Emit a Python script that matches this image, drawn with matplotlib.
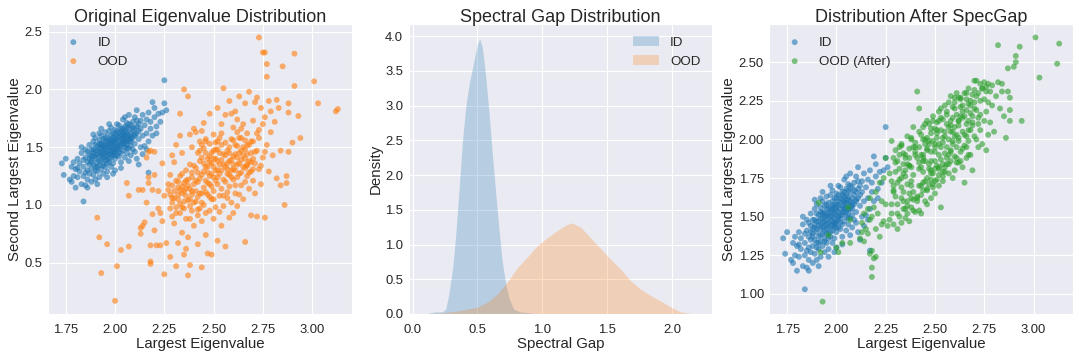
import matplotlib
matplotlib.use("Agg")
import matplotlib.pyplot as plt
import seaborn as sns
import numpy as np

sns.set_style("darkgrid")
plt.rcParams['font.family'] = ['Liberation Sans', 'DejaVu Sans']
plt.rcParams['text.color'] = '0.15'
plt.rcParams['axes.labelcolor'] = '0.15'
plt.rcParams['xtick.color'] = '0.15'
plt.rcParams['ytick.color'] = '0.15'

# ---------------- data ----------------
id_x = [1.73, 1.74, 1.75, 1.77, 1.78, 1.79, 1.79, 1.80, 1.78, 1.80,
        1.81, 1.81, 1.82, 1.82, 1.83, 1.83, 1.84, 1.84, 1.84, 1.85,
        1.85, 1.85, 1.86, 1.86, 1.86, 1.87, 1.87, 1.87, 1.83, 1.86,
        1.81, 1.84, 1.87, 1.85, 1.86,
        1.88, 1.88, 1.88, 1.88, 1.89, 1.89, 1.89, 1.89, 1.90, 1.90,
        1.90, 1.90, 1.90, 1.91, 1.91, 1.91, 1.91, 1.92, 1.92, 1.92,
        1.92, 1.92, 1.92, 1.93, 1.93, 1.93, 1.93, 1.93, 1.94, 1.94,
        1.94, 1.94, 1.94, 1.89, 1.91, 1.93, 1.88, 1.90, 1.92, 1.94,
        1.95, 1.95, 1.95, 1.95, 1.95, 1.96, 1.96, 1.96, 1.96, 1.96,
        1.97, 1.97, 1.97, 1.97, 1.97, 1.98, 1.98, 1.98, 1.98, 1.98,
        1.98, 1.99, 1.99, 1.99, 1.99, 1.99, 2.00, 2.00, 2.00, 2.00,
        2.00, 2.00, 2.01, 2.01, 2.01, 2.01, 2.01, 1.96, 1.99, 1.97,
        1.95, 1.98, 2.00, 1.96, 1.99,
        2.02, 2.02, 2.02, 2.02, 2.02, 2.03, 2.03, 2.03, 2.03, 2.03,
        2.04, 2.04, 2.04, 2.04, 2.04, 2.05, 2.05, 2.05, 2.05, 2.05,
        2.06, 2.06, 2.06, 2.06, 2.06, 2.07, 2.07, 2.07, 2.07, 2.07,
        2.08, 2.08, 2.08, 2.08, 2.08, 2.03, 2.05, 2.07, 2.04, 2.06,
        2.09, 2.09, 2.09, 2.09, 2.10, 2.10, 2.10, 2.10, 2.11, 2.11,
        2.11, 2.11, 2.12, 2.12, 2.12, 2.13, 2.13, 2.13, 2.14, 2.14,
        2.14, 2.15, 2.15, 2.12, 2.10,
        2.16, 2.16, 2.17, 2.17, 2.17, 2.18, 2.18, 2.19, 2.19, 2.20,
        2.21, 2.22, 2.23, 2.25, 2.25, 2.26, 2.24, 2.20, 2.16, 2.21,
        1.88, 1.89, 1.90, 1.91, 1.92, 1.93, 1.94, 1.95, 1.96, 1.97,
        1.98, 1.99, 2.00, 2.01, 2.02, 2.03, 2.04, 2.05, 2.06, 2.07,
        2.08, 2.09, 2.10, 2.11, 1.90, 1.92, 1.94, 1.96, 1.98, 2.00,
        2.02, 2.04, 2.06, 2.08, 1.91, 1.93, 1.95, 1.97, 1.99, 2.01,
        2.03, 2.05, 1.87, 1.89, 1.97, 2.00, 2.03, 1.95, 1.99, 2.05,
        1.93, 2.01, 2.07, 1.96, 2.04, 1.98, 2.02, 1.94, 2.00, 2.06]
id_y = [1.36, 1.26, 1.40, 1.22, 1.20, 1.25, 1.37, 1.31, 1.33, 1.15,
        1.24, 1.40, 1.36, 1.29, 1.18, 1.45, 1.03, 1.33, 1.25, 1.41,
        1.17, 1.48, 1.30, 1.37, 1.22, 1.44, 1.27, 1.52, 1.50, 1.15,
        1.32, 1.39, 1.35, 1.28, 1.46,
        1.39, 1.31, 1.48, 1.20, 1.43, 1.35, 1.55, 1.26, 1.40, 1.47,
        1.33, 1.58, 1.22, 1.44, 1.37, 1.51, 1.29, 1.42, 1.49, 1.34,
        1.56, 1.62, 1.24, 1.46, 1.39, 1.53, 1.31, 1.60, 1.44, 1.50,
        1.36, 1.57, 1.27, 1.61, 1.18, 1.66, 1.42, 1.52, 1.45, 1.41,
        1.48, 1.42, 1.55, 1.33, 1.63, 1.46, 1.52, 1.39, 1.59, 1.29,
        1.50, 1.44, 1.56, 1.37, 1.64, 1.47, 1.53, 1.41, 1.60, 1.33,
        1.67, 1.49, 1.55, 1.43, 1.62, 1.36, 1.51, 1.46, 1.58, 1.40,
        1.65, 1.30, 1.53, 1.48, 1.60, 1.43, 1.70, 1.24, 1.27, 1.70,
        1.51, 1.50, 1.54, 1.43, 1.58,
        1.55, 1.49, 1.62, 1.42, 1.69, 1.57, 1.51, 1.64, 1.45, 1.37,
        1.59, 1.53, 1.66, 1.47, 1.74, 1.56, 1.61, 1.50, 1.68, 1.41,
        1.58, 1.63, 1.52, 1.71, 1.45, 1.60, 1.55, 1.66, 1.49, 1.78,
        1.62, 1.57, 1.69, 1.51, 1.43, 1.32, 1.76, 1.38, 1.60, 1.55,
        1.64, 1.58, 1.72, 1.48, 1.66, 1.60, 1.53, 1.76, 1.68, 1.62,
        1.40, 1.82, 1.70, 1.57, 1.64, 1.73, 1.50, 1.66, 1.60, 1.78,
        1.44, 1.69, 1.51, 1.35, 1.46,
        1.74, 1.62, 1.80, 1.28, 1.55, 1.66, 1.72, 1.89, 1.60, 1.76,
        1.68, 1.79, 1.72, 2.08, 1.88, 1.82, 1.80, 1.84, 1.48, 1.62,
        1.37, 1.45, 1.30, 1.47, 1.38, 1.52, 1.34, 1.45, 1.55, 1.40,
        1.57, 1.45, 1.62, 1.50, 1.46, 1.66, 1.55, 1.64, 1.49, 1.70,
        1.55, 1.67, 1.61, 1.73, 1.42, 1.53, 1.47, 1.36, 1.55, 1.47,
        1.59, 1.63, 1.67, 1.59, 1.33, 1.43, 1.58, 1.47, 1.52, 1.57,
        1.53, 1.59, 1.40, 1.48, 1.53, 1.56, 1.61, 1.39, 1.46, 1.53,
        1.49, 1.64, 1.57, 1.50, 1.56, 1.44, 1.51, 1.52, 1.43, 1.61]

ood_x = [1.91, 1.92, 1.93, 1.96, 2.00, 2.01, 2.03, 2.07, 2.06, 2.07,
         2.12, 2.13, 2.13, 2.14, 2.14, 2.15, 2.16, 2.16, 2.17, 2.17,
         2.17, 2.18, 2.18, 2.18, 2.18, 2.19, 2.19, 2.20, 2.20, 2.20,
         2.21, 2.22, 2.22, 2.23, 2.23, 2.24, 2.24, 2.25, 2.25,
         2.27, 2.27, 2.28, 2.28, 2.29, 2.29, 2.29, 2.30, 2.30, 2.30,
         2.31, 2.31, 2.31, 2.31, 2.32, 2.32, 2.32, 2.33, 2.33, 2.33,
         2.34, 2.34, 2.34, 2.35, 2.35, 2.35, 2.35, 2.36, 2.36, 2.36,
         2.37, 2.37, 2.37, 2.37, 2.38, 2.38, 2.38, 2.38, 2.39, 2.39,
         2.39, 2.39, 2.40, 2.40, 2.40, 2.28, 2.26, 2.33, 2.29, 2.36,
         2.41, 2.41, 2.41, 2.42, 2.42, 2.42, 2.42, 2.43, 2.43, 2.43,
         2.43, 2.44, 2.44, 2.44, 2.44, 2.45, 2.45, 2.45, 2.45, 2.46,
         2.46, 2.46, 2.46, 2.47, 2.47, 2.47, 2.47, 2.48, 2.48, 2.48,
         2.48, 2.49, 2.49, 2.49, 2.49, 2.50, 2.50, 2.50, 2.50, 2.51,
         2.51, 2.51, 2.51, 2.52, 2.52, 2.52, 2.52, 2.53, 2.53, 2.53,
         2.53, 2.54, 2.54, 2.54, 2.54, 2.55, 2.55, 2.55, 2.55, 2.56,
         2.44, 2.46, 2.48, 2.50, 2.52,
         2.56, 2.56, 2.57, 2.57, 2.57, 2.58, 2.58, 2.58, 2.58, 2.59,
         2.59, 2.59, 2.60, 2.60, 2.60, 2.60, 2.61, 2.61, 2.61, 2.62,
         2.62, 2.62, 2.63, 2.63, 2.63, 2.64, 2.64, 2.64, 2.65, 2.65,
         2.65, 2.66, 2.66, 2.66, 2.67, 2.67, 2.67, 2.68, 2.68, 2.68,
         2.69, 2.69, 2.69, 2.70, 2.70, 2.70, 2.59, 2.62, 2.64, 2.66,
         2.57, 2.61, 2.63, 2.67, 2.69,
         2.71, 2.71, 2.71, 2.72, 2.72, 2.72, 2.73, 2.73, 2.73, 2.74,
         2.74, 2.75, 2.75, 2.75, 2.76, 2.76, 2.76, 2.77, 2.77, 2.77,
         2.78, 2.78, 2.79, 2.79, 2.80, 2.81, 2.82, 2.82, 2.83, 2.84,
         2.85, 2.84,
         2.86, 2.87, 2.87, 2.88, 2.88, 2.88, 2.90, 2.91, 2.91, 2.93,
         2.94, 3.01, 3.03, 3.12, 3.13,
         2.30, 2.31, 2.32, 2.33, 2.34, 2.35, 2.36, 2.37, 2.38, 2.39,
         2.40, 2.41, 2.42, 2.43, 2.44, 2.45, 2.46, 2.47, 2.48, 2.49,
         2.50, 2.51, 2.52, 2.53, 2.54, 2.55, 2.56, 2.57, 2.58, 2.59,
         2.60, 2.61, 2.62, 2.63, 2.64, 2.65, 2.66, 2.67, 2.68, 2.69,
         2.70, 2.72, 2.74, 2.32, 2.34, 2.36, 2.38, 2.40, 2.42, 2.44,
         2.46, 2.48, 2.50, 2.52, 2.54, 2.56, 2.58, 2.60, 2.62, 2.64,
         2.66, 2.68, 2.33, 2.37, 2.41, 2.45, 2.49, 2.53, 2.57, 2.61,
         2.65, 2.29, 2.35, 2.39, 2.43, 2.47, 2.51, 2.55, 2.59, 2.63,
         2.67, 2.71, 2.28, 2.44, 2.48, 2.52, 2.56, 2.60, 2.46, 2.50,
         2.54, 2.58, 2.42, 2.38, 2.62, 2.66, 2.70, 2.34, 2.73, 2.76]
ood_y = [0.89, 0.72, 0.41, 0.66, 0.17, 0.47, 0.61, 0.64, 1.19, 1.08,
         1.13, 0.80, 0.75, 0.82, 1.13, 0.85, 1.02, 1.41, 1.19, 1.24,
         1.46, 1.47, 0.65, 0.51, 0.49, 0.92, 1.13, 0.78, 1.46, 1.26,
         0.65, 0.97, 1.12, 0.93, 0.65, 0.86, 1.36, 1.08, 0.40,
         1.13, 1.18, 1.09, 1.26, 1.02, 1.17, 0.90, 1.12, 0.84, 1.37,
         1.52, 1.21, 0.47, 0.98, 1.15, 0.67, 1.05, 1.25, 0.93, 1.60,
         1.10, 0.76, 1.45, 1.19, 2.00, 1.03, 0.57, 1.30, 0.88, 1.14,
         1.94, 0.39, 1.22, 0.72, 1.05, 1.61, 1.35, 0.48, 1.12, 0.95,
         1.50, 1.28, 1.66, 0.82, 1.18, 0.55, 0.67, 1.79, 1.43, 0.62,
         1.63, 1.03, 1.32, 0.91, 1.45, 1.20, 0.66, 1.55, 1.10, 0.97,
         1.38, 1.26, 0.46, 1.64, 0.86, 1.15, 1.49, 1.00, 1.71, 1.33,
         1.21, 0.74, 1.57, 1.09, 1.40, 0.58, 1.28, 1.53, 0.95, 1.18,
         1.79, 1.36, 1.05, 0.57, 1.45, 1.24, 1.61, 0.88, 1.12, 1.40,
         0.98, 1.54, 1.30, 1.18, 0.69, 1.48, 1.84, 1.08, 1.35, 0.94,
         1.27, 1.52, 1.14, 0.82, 1.70, 1.22, 1.44, 0.99, 2.01, 1.33,
         1.10, 0.93, 1.25, 1.05, 1.30,
         1.78, 0.64, 1.47, 1.06, 1.27, 1.90, 1.38, 0.89, 1.16, 1.57,
         1.30, 1.02, 1.67, 1.42, 0.93, 1.22, 1.52, 1.81, 1.10, 1.35,
         1.63, 0.99, 1.45, 1.27, 1.94, 1.58, 1.17, 1.39, 1.70, 1.05,
         1.50, 1.32, 0.68, 1.88, 1.44, 1.25, 1.62, 1.38, 1.14, 1.98,
         1.55, 1.29, 0.91, 1.73, 1.40, 1.21, 1.79, 1.24, 1.47, 1.56,
         1.11, 1.30, 1.09, 1.34, 1.45,
         1.89, 1.36, 1.10, 1.47, 1.93, 0.90, 2.45, 1.58, 1.31, 1.84,
         1.18, 2.32, 1.70, 1.41, 2.32, 0.89, 1.76, 2.22, 2.11, 1.52,
         1.90, 1.29, 1.63, 1.81, 1.43, 1.72, 1.91, 1.23, 1.84, 1.47,
         2.20, 1.17,
         1.00, 1.19, 1.25, 1.80, 1.88, 1.46, 1.54, 2.31, 2.03, 1.77,
         1.58, 2.07, 1.88, 1.81, 1.83,
         1.06, 0.93, 1.20, 1.01, 1.16, 0.97, 1.08, 1.17, 0.99, 1.24,
         1.34, 1.12, 1.28, 1.47, 1.02, 1.36, 1.45, 1.19, 1.37, 1.27,
         1.47, 1.21, 1.38, 1.58, 1.30, 1.35, 1.43, 1.31, 1.50, 1.39,
         1.31, 1.44, 1.51, 1.36, 1.28, 1.43, 1.48, 1.35, 1.52, 1.37,
         1.31, 1.62, 1.34, 1.09, 0.98, 1.21, 1.14, 1.02, 1.07, 1.52,
         1.11, 1.42, 1.33, 1.55, 1.39, 1.20, 1.45, 1.56, 1.41, 1.66,
         1.20, 1.28, 1.13, 1.04, 1.21, 1.29, 1.16, 1.45, 1.36, 1.17,
         1.33, 1.06, 1.12, 1.09, 1.23, 1.33, 1.48, 1.08, 1.24, 1.58,
         1.52, 1.46, 0.97, 1.41, 1.07, 1.24, 1.54, 1.35, 1.55, 1.40,
         1.62, 1.26, 0.96, 0.88, 1.74, 1.40, 1.55, 1.27, 1.65, 1.46]
ood_after_y = [1.59, 1.27, 0.95, 1.38, 1.30, 1.27, 1.33, 1.48, 1.56, 1.33,
               1.36, 1.40, 1.46, 1.34, 1.52, 1.42, 1.39, 1.55, 1.26, 1.62,
               1.48, 1.28, 1.17, 1.11, 1.50, 1.23, 1.56, 1.24, 1.66, 1.42,
               1.52, 1.37, 1.72, 1.45, 1.60, 1.75, 1.47, 1.88, 1.58,
               1.48, 1.78, 1.99, 1.52, 1.70, 1.88, 1.45, 1.63, 1.93, 1.79,
               1.42, 1.86, 1.58, 1.72, 1.50, 1.95, 1.81, 1.62, 1.97, 1.46,
               1.84, 1.66, 1.91, 1.55, 1.76, 1.88, 1.49, 1.71, 2.02, 1.60,
               1.83, 1.47, 1.94, 1.65, 2.00, 1.56, 1.82, 1.73, 1.95, 1.61,
               2.08, 1.77, 1.90, 1.53, 1.98, 1.58, 1.44, 1.75, 1.67, 1.52,
               2.31, 1.62, 1.88, 2.20, 1.70, 1.95, 1.54, 1.82, 2.03, 1.64,
               1.52, 1.90, 2.08, 1.67, 1.79, 2.00, 1.60, 1.86, 1.73, 2.12,
               1.68, 1.93, 1.58, 1.84, 2.10, 1.71, 1.97, 1.62, 2.04, 1.80,
               1.92, 1.69, 2.15, 1.78, 1.99, 1.86, 2.07, 1.65, 1.95, 1.74,
               2.11, 1.83, 2.01, 1.70, 2.18, 1.90, 1.77, 1.56, 2.06, 1.87,
               2.20, 1.79, 1.98, 2.13, 1.73, 1.91, 2.22, 1.82, 2.05, 1.95,
               1.72, 2.01, 1.86, 1.97, 1.81,
               1.84, 2.10, 2.24, 1.78, 2.00, 1.93, 2.28, 1.86, 2.12, 1.75,
               2.05, 2.21, 1.89, 2.27, 2.08, 1.80, 2.16, 1.95, 2.30, 1.85,
               2.12, 2.01, 2.26, 1.92, 2.15, 1.82, 2.22, 2.05, 1.96, 1.72,
               2.30, 2.10, 1.88, 2.19, 2.33, 1.99, 2.12, 1.90, 2.25, 2.06,
               1.80, 2.29, 2.15, 2.38, 2.02, 2.20, 1.97, 2.09, 2.14, 1.95,
               1.90, 2.03, 1.86, 2.23, 2.11,
               2.19, 2.38, 2.00, 2.30, 1.95, 2.14, 2.36, 2.06, 2.25, 2.33,
               1.97, 2.37, 2.12, 2.26, 2.31, 1.93, 2.18, 2.36, 2.03, 2.24,
               2.31, 2.11, 2.35, 2.22, 2.05, 2.28, 2.37, 2.61, 2.20, 2.31,
               2.15, 2.36,
               2.01, 2.46, 2.31, 2.27, 2.12, 2.19, 2.47, 2.50, 2.54, 2.60,
               2.12, 2.66, 2.40, 2.49, 2.62,
               1.85, 1.52, 1.74, 1.96, 1.60, 1.90, 1.57, 1.83, 2.01, 1.66,
               1.95, 1.63, 2.05, 1.70, 1.88, 2.10, 1.67, 1.99, 1.74, 2.12,
               1.73, 2.06, 1.82, 2.14, 1.76, 2.02, 2.18, 1.84, 2.09, 1.99,
               2.20, 1.85, 2.12, 2.27, 1.94, 2.15, 2.30, 1.90, 2.22, 2.09,
               2.24, 2.10, 2.33, 1.90, 1.55, 1.84, 1.62, 1.92, 1.81, 2.00,
               1.75, 2.07, 1.92, 2.12, 1.84, 2.16, 2.05, 2.24, 1.99, 2.18,
               2.26, 2.17, 1.69, 1.88, 1.60, 1.97, 1.71, 1.95, 2.08, 1.88,
               2.03, 1.66, 1.80, 1.54, 1.90, 1.81, 2.04, 1.79, 2.14, 2.21,
               2.06, 2.28, 1.73, 1.86, 1.78, 1.97, 1.88, 2.02, 1.94, 1.81,
               2.01, 1.92, 1.85, 1.70, 2.27, 2.02, 2.32, 1.78, 2.16, 2.34]

gap_x_id = [0.10, 0.17, 0.23, 0.256, 0.28, 0.31, 0.333, 0.36, 0.385, 0.41,
            0.436, 0.474, 0.50, 0.518, 0.538, 0.564, 0.59, 0.615, 0.641, 0.667,
            0.69, 0.718, 0.744, 0.78, 0.83, 0.885, 0.936, 0.99]
dens_id = [0.00, 0.03, 0.03, 0.07, 0.29, 0.67, 1.15, 1.83, 2.50, 2.98,
           3.31, 3.65, 3.89, 3.96, 3.84, 3.41, 2.88, 2.30, 1.73, 1.20,
           0.77, 0.43, 0.22, 0.07, 0.03, 0.02, 0.005, 0.00]
gap_x_ood = [0.09, 0.24, 0.37, 0.50, 0.577, 0.654, 0.73, 0.81, 0.885, 0.96,
             1.04, 1.115, 1.19, 1.23, 1.295, 1.37, 1.45, 1.525, 1.60, 1.68,
             1.756, 1.83, 1.91, 1.99, 2.064, 2.14, 2.205]
dens_ood = [0.00, 0.02, 0.05, 0.10, 0.17, 0.29, 0.46, 0.67, 0.82, 0.98,
            1.10, 1.20, 1.29, 1.31, 1.25, 1.10, 0.94, 0.79, 0.65, 0.48,
            0.36, 0.27, 0.19, 0.10, 0.03, 0.01, 0.00]

C_ID = '#1f77b4'
C_OOD = '#ff7f0e'
C_AFTER = '#2ca02c'

TITLE = 13
LABEL = 10.8
TICK = 9.4
LEG = 9.6
S = 18

fig, axes = plt.subplots(1, 3, figsize=(10.79, 3.56), dpi=100)
plt.subplots_adjust(left=0.0445, right=0.9944, bottom=0.118, top=0.9317, wspace=0.188)

# Left
ax = axes[0]
ax.scatter(id_x, id_y, s=S, c=C_ID, alpha=0.6, edgecolors='none', label='ID')
ax.scatter(ood_x, ood_y, s=S, c=C_OOD, alpha=0.6, edgecolors='none', label='OOD')
ax.set_title('Original Eigenvalue Distribution', fontsize=TITLE, pad=1.5)
ax.set_xlabel('Largest Eigenvalue', fontsize=LABEL, labelpad=1)
ax.set_ylabel('Second Largest Eigenvalue', fontsize=LABEL, labelpad=2)
ax.legend(loc='upper left', fontsize=LEG, frameon=False)

# Middle
ax = axes[1]
ax.fill_between(gap_x_id, dens_id, 0, color=C_ID, alpha=0.25, linewidth=0, label='ID')
ax.fill_between(gap_x_ood, dens_ood, 0, color=C_OOD, alpha=0.25, linewidth=0, label='OOD')
ax.set_xlim(-0.03, 2.31)
ax.set_ylim(0, 4.17)
ax.set_title('Spectral Gap Distribution', fontsize=TITLE, pad=1.5)
ax.set_xlabel('Spectral Gap', fontsize=LABEL, labelpad=1)
ax.set_ylabel('Density', fontsize=LABEL, labelpad=2)
ax.legend(loc='upper right', fontsize=LEG, frameon=False)

# Right
ax = axes[2]
ax.scatter(id_x, id_y, s=S, c=C_ID, alpha=0.6, edgecolors='none', label='ID')
ax.scatter(ood_x, ood_after_y, s=S, c=C_AFTER, alpha=0.6, edgecolors='none', label='OOD (After)')
ax.set_ylim(0.87, 2.745)
ax.set_title('Distribution After SpecGap', fontsize=TITLE, pad=1.5)
ax.set_xlabel('Largest Eigenvalue', fontsize=LABEL, labelpad=1)
ax.set_ylabel('Second Largest Eigenvalue', fontsize=LABEL, labelpad=2)
ax.legend(loc='upper left', fontsize=LEG, frameon=False)

for ax in axes:
    ax.tick_params(axis='x', labelsize=TICK)
    ax.tick_params(axis='y', labelsize=TICK, length=0, pad=4)

fig.savefig('out.png', dpi=100)
